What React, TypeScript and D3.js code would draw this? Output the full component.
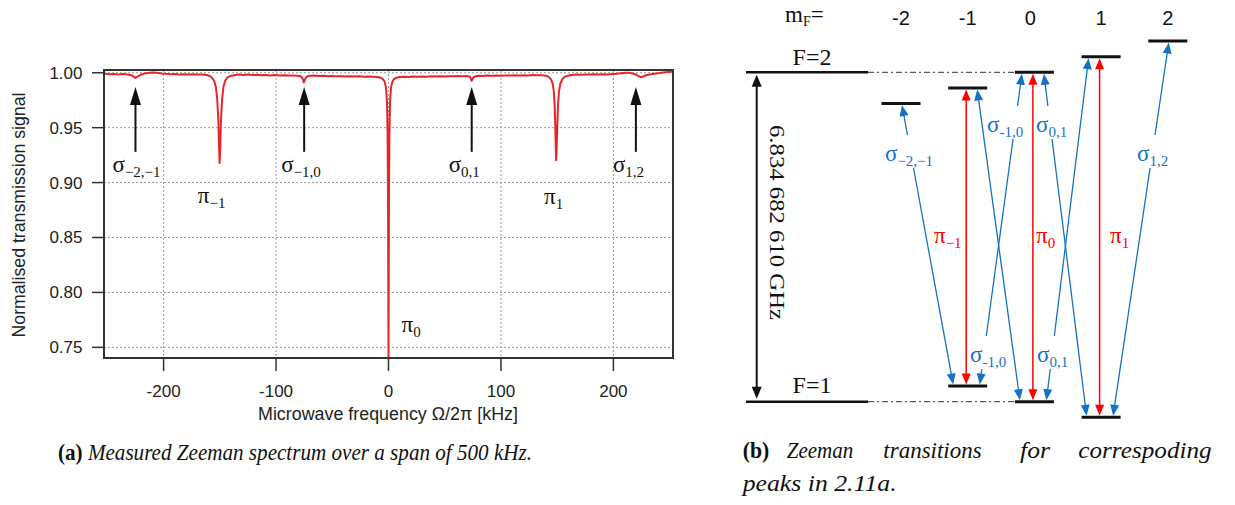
import React from 'react';
import * as d3 from 'd3';

// ================= Panel (a) data =================
const xTickValues = [-200, -100, 0, 100, 200];
const yTickValues = [0.75, 0.8, 0.85, 0.9, 0.95, 1.0];
const yTickLabels = ['0.75', '0.80', '0.85', '0.90', '0.95', '1.00'];
const xAxisTitle = 'Microwave frequency Ω/2π  [kHz]';
const yAxisTitle = 'Normalised transmission signal';

// [frequency kHz, normalised transmission]
const spectrum: [number, number][] = [
  [-252, 0.999], [-248, 0.9986], [-244, 0.9989], [-240, 0.9985], [-236, 0.9988], [-232, 0.9984],
  [-229, 0.9978], [-227, 0.9968], [-225, 0.9953], [-223, 0.9966], [-221, 0.9979], [-218, 0.999],
  [-214, 0.9998], [-210, 1.0003], [-206, 1.0], [-202, 0.9994], [-198, 0.999], [-194, 0.9987],
  [-190, 0.9989], [-186, 0.9985], [-182, 0.9987], [-178, 0.9984], [-174, 0.9986], [-170, 0.9983],
  [-166, 0.9984], [-162, 0.9979], [-159, 0.997], [-157, 0.9955], [-155, 0.9925], [-153.5, 0.987],
  [-152.3, 0.976], [-151.3, 0.956], [-150.6, 0.93], [-150.2, 0.9178], [-149.7, 0.93], [-149.0, 0.956],
  [-148.0, 0.976], [-146.8, 0.987], [-145.3, 0.9925], [-143.5, 0.9955], [-141, 0.997], [-137, 0.9978],
  [-133, 0.9983], [-129, 0.998], [-125, 0.9983], [-121, 0.9979], [-117, 0.9982], [-113, 0.9978],
  [-109, 0.998], [-105, 0.9976], [-101, 0.9979], [-97, 0.9975], [-93, 0.9977], [-89, 0.9974],
  [-85, 0.9976], [-81, 0.9973], [-78, 0.9968], [-76.5, 0.995], [-75.3, 0.9912], [-74, 0.9945],
  [-72.5, 0.9966], [-70, 0.9972], [-66, 0.9975], [-62, 0.9971], [-58, 0.9973], [-54, 0.9969],
  [-50, 0.9971], [-46, 0.9967], [-42, 0.9969], [-38, 0.9966], [-34, 0.9968], [-30, 0.9965],
  [-26, 0.9967], [-22, 0.9964], [-18, 0.9966], [-14, 0.9963], [-10, 0.9962], [-7, 0.9955],
  [-5, 0.9942], [-3.5, 0.992], [-2.3, 0.987], [-1.4, 0.974], [-0.8, 0.945], [-0.4, 0.88],
  [-0.15, 0.79], [0, 0.7413], [0.15, 0.79], [0.4, 0.88], [0.8, 0.945], [1.4, 0.974],
  [2.3, 0.987], [3.5, 0.992], [5, 0.9942], [7, 0.9955], [10, 0.9961], [14, 0.9964],
  [18, 0.9962], [22, 0.9965], [26, 0.9963], [30, 0.9966], [34, 0.9964], [38, 0.9967],
  [42, 0.9965], [46, 0.9968], [50, 0.9966], [54, 0.9969], [58, 0.9967], [62, 0.997],
  [66, 0.9968], [70, 0.997], [72.5, 0.9962], [74, 0.9927], [75.5, 0.9958], [77.5, 0.9968],
  [80, 0.9972], [84, 0.997], [88, 0.9974], [92, 0.9972], [96, 0.9975], [100, 0.9973],
  [104, 0.9976], [108, 0.9974], [112, 0.9977], [116, 0.9975], [120, 0.9978], [124, 0.9976],
  [128, 0.9979], [132, 0.9977], [136, 0.9978], [140, 0.9973], [142.5, 0.9962], [144.5, 0.994],
  [146, 0.99], [147, 0.983], [147.8, 0.97], [148.4, 0.948], [148.8, 0.93], [149.1, 0.9204],
  [149.5, 0.93], [150, 0.948], [150.7, 0.97], [151.6, 0.983], [152.8, 0.99], [154.5, 0.994],
  [156.5, 0.9962], [159, 0.9972], [163, 0.9979], [167, 0.9983], [171, 0.9981], [175, 0.9985],
  [179, 0.9983], [183, 0.9986], [187, 0.9984], [191, 0.9987], [195, 0.9985], [199, 0.9988],
  [203, 0.9991], [207, 0.9996], [211, 1.0001], [214, 1.0], [217, 0.9993], [220, 0.9984],
  [222.5, 0.997], [224.5, 0.9958], [226.5, 0.9966], [229, 0.9978], [232, 0.9984], [236, 0.999],
  [240, 0.9996], [244, 1.0003], [248, 1.0006], [252, 1.001],
];

const sigmaPeakFreqs = [-225, -75, 74, 220];
const sigmaPeakSubs = ['−2,−1', '−1,0', '0,1', '1,2'];
const piPeakFreqs = [-150, 0, 149];
const piPeakSubs = ['−1', '0', '1'];
const arrowSpan = [0.928, 0.987]; // arrow from / to (signal units)

// ================= Panel (b) data =================
const mFValues = [-2, -1, 0, 1, 2];
const mFLabels = ['-2', '-1', '0', '1', '2'];
const upperMF = [-2, -1, 0, 1, 2]; // F=2
const lowerMF = [-1, 0, 1]; // F=1
const zeemanStep = 0.0474; // schematic shift per mF, in units of hyperfine splitting
const splittingLabel = '6.834 682 610 GHz';

type Transition = { kind: 'sigma' | 'pi'; lowerM: number; upperM: number; lowSlot: string; upSlot: string };
const transitions: Transition[] = [
  { kind: 'sigma', lowerM: -1, upperM: -2, lowSlot: 'L', upSlot: 'C' },
  { kind: 'sigma', lowerM: 0, upperM: -1, lowSlot: 'L', upSlot: 'R' },
  { kind: 'sigma', lowerM: -1, upperM: 0, lowSlot: 'R', upSlot: 'L' },
  { kind: 'sigma', lowerM: 1, upperM: 0, lowSlot: 'L', upSlot: 'R' },
  { kind: 'sigma', lowerM: 0, upperM: 1, lowSlot: 'R', upSlot: 'L' },
  { kind: 'sigma', lowerM: 1, upperM: 2, lowSlot: 'R', upSlot: 'C' },
  { kind: 'pi', lowerM: -1, upperM: -1, lowSlot: 'P', upSlot: 'P' },
  { kind: 'pi', lowerM: 0, upperM: 0, lowSlot: 'P', upSlot: 'P' },
  { kind: 'pi', lowerM: 1, upperM: 1, lowSlot: 'P', upSlot: 'P' },
];

// labels on the diagram (transition index, subscript, position)
const diagramSigmaLabels = [
  { tr: 0, sub: '−2,−1', x: 885, y: 161 },
  { tr: 2, sub: '-1,0', x: 987, y: 132 },
  { tr: 3, sub: '0,1', x: 1036, y: 132 },
  { tr: 2, sub: '-1,0', x: 970, y: 362 },
  { tr: 4, sub: '0,1', x: 1037, y: 362 },
  { tr: 5, sub: '1,2', x: 1137, y: 161 },
];
const diagramPiLabels = [
  { sub: '−1', x: 934, y: 243 },
  { sub: '0', x: 1036, y: 243 },
  { sub: '1', x: 1110, y: 243 },
];

// ================= styles =================
const SANS = '"Liberation Sans", Arial, sans-serif';
const SERIF = '"Liberation Serif", "Times New Roman", serif';
const PLOT_RED = '#e8252c';
const RED = '#ff0000';
const BLUE = '#1572c2';
const AXIS = '#333333';

type Pt = [number, number];

function headPoints(tip: Pt, dir: Pt, len: number, width: number): string {
  const [ux, uy] = dir;
  const bx = tip[0] - ux * len;
  const by = tip[1] - uy * len;
  const px = -uy * (width / 2);
  const py = ux * (width / 2);
  return `${tip[0]},${tip[1]} ${bx + px},${by + py} ${bx - px},${by - py}`;
}

function DoubleArrow({ p1, p2, color, width, headLen, headW, gaps = [] }: {
  p1: Pt; p2: Pt; color: string; width: number; headLen: number; headW: number; gaps?: [number, number][];
}) {
  const dx = p2[0] - p1[0];
  const dy = p2[1] - p1[1];
  const L = Math.hypot(dx, dy);
  const u: Pt = [dx / L, dy / L];
  const tStart = (headLen * 0.8) / L;
  const tEnd = 1 - (headLen * 0.8) / L;
  const tg = gaps
    .map(([ya, yb]) => {
      const ta = (ya - p1[1]) / dy;
      const tb = (yb - p1[1]) / dy;
      return [Math.min(ta, tb), Math.max(ta, tb)] as [number, number];
    })
    .sort((a, b) => a[0] - b[0]);
  const segs: [number, number][] = [];
  let cur = tStart;
  for (const [a, b] of tg) {
    if (a > cur) segs.push([cur, Math.min(a, tEnd)]);
    cur = Math.max(cur, b);
  }
  if (cur < tEnd) segs.push([cur, tEnd]);
  return (
    <g>
      {segs.map(([a, b], i) => (
        <line key={i} x1={p1[0] + dx * a} y1={p1[1] + dy * a} x2={p1[0] + dx * b} y2={p1[1] + dy * b}
          stroke={color} strokeWidth={width} />
      ))}
      <polygon points={headPoints(p2, u, headLen, headW)} fill={color} />
      <polygon points={headPoints(p1, [-u[0], -u[1]], headLen, headW)} fill={color} />
    </g>
  );
}

function PanelA() {
  const left = 104, right = 673, top = 70, bottom = 358;
  const x = d3.scaleLinear().domain([-253, 253]).range([left, right]);
  const y = d3.scaleLinear().domain([0.7403, 1.0025]).range([bottom, top]);
  const line = d3.line<[number, number]>().x((d) => x(d[0])).y((d) => y(d[1]));
  return (
    <g>
      {xTickValues.map((v) => (
        <line key={'gx' + v} x1={x(v)} x2={x(v)} y1={top} y2={bottom} stroke="#9a9a9a" strokeWidth={1} strokeDasharray="2,2" />
      ))}
      {yTickValues.map((v) => (
        <line key={'gy' + v} x1={left} x2={right} y1={y(v)} y2={y(v)} stroke="#9a9a9a" strokeWidth={1} strokeDasharray="2,2" />
      ))}
      <path d={line(spectrum) || ''} fill="none" stroke={PLOT_RED} strokeWidth={2} strokeLinejoin="round" />
      <rect x={left} y={top} width={right - left} height={bottom - top} fill="none" stroke={AXIS} strokeWidth={2} />
      {xTickValues.map((v) => (
        <g key={'tx' + v}>
          <line x1={x(v)} x2={x(v)} y1={bottom} y2={bottom + 13} stroke={AXIS} strokeWidth={1.5} />
          <text x={x(v)} y={396.5} textAnchor="middle" fontFamily={SANS} fontSize={17} fill="#222">{v}</text>
        </g>
      ))}
      {yTickValues.map((v, i) => (
        <g key={'ty' + v}>
          <line x1={left - 12} x2={left} y1={y(v)} y2={y(v)} stroke={AXIS} strokeWidth={1.5} />
          <text x={82.5} y={y(v)} dy="0.35em" textAnchor="end" fontFamily={SANS} fontSize={17} fill="#222">{yTickLabels[i]}</text>
        </g>
      ))}
      <text x={388} y={420} textAnchor="middle" fontFamily={SANS} fontSize={17.5} fill="#222" textLength={260} lengthAdjust="spacingAndGlyphs">{xAxisTitle}</text>
      <text transform={`translate(24.5,215) rotate(-90)`} textAnchor="middle" fontFamily={SANS} fontSize={17.5} fill="#222" textLength={245} lengthAdjust="spacingAndGlyphs">{yAxisTitle}</text>
      {sigmaPeakFreqs.map((f, i) => {
        const ax = x(f);
        const tipY = y(arrowSpan[1]);
        const baseY = y(arrowSpan[0]);
        return (
          <g key={'sa' + i}>
            <line x1={ax} x2={ax} y1={baseY} y2={tipY + 14} stroke="#111" strokeWidth={2} />
            <polygon points={headPoints([ax, tipY], [0, -1], 18, 11)} fill="#111" />
            <text x={ax - 23} y={172} fontFamily={SERIF} fontSize={23} fill="#111">
              σ<tspan fontSize={15} dy={5}>{sigmaPeakSubs[i]}</tspan>
            </text>
          </g>
        );
      })}
      {piPeakFreqs.map((f, i) => {
        const off = [[-22, 203], [13, 332], [-12, 204]][i];
        return (
          <text key={'pl' + i} x={x(f) + off[0]} y={off[1]} fontFamily={SERIF} fontSize={23} fill="#111">
            π<tspan fontSize={15} dy={5}>{piPeakSubs[i]}</tspan>
          </text>
        );
      })}
    </g>
  );
}

function PanelB() {
  const xM = d3.scaleLinear().domain([-2, 2]).range([901, 1167.8]);
  const yE = d3.scaleLinear().domain([0, 1]).range([401.7, 72.3]);
  const halfBar = 19.5;
  const upperE = (m: number) => 1 + zeemanStep * m;
  const lowerE = (m: number) => -zeemanStep * m;
  const upSlotOff: Record<string, number> = { L: -12.5, C: 1, R: 9.5, P: -1.5 };
  const lowSlotOff: Record<string, number> = { L: -14.5, R: 12, P: -1.5 };
  const zeroLeft = xM(0) - halfBar;

  const trGeom = transitions.map((t) => {
    const p1: Pt = [xM(t.lowerM) + lowSlotOff[t.lowSlot], yE(lowerE(t.lowerM)) - 1.5];
    const p2: Pt = [xM(t.upperM) + upSlotOff[t.upSlot], yE(upperE(t.upperM)) + 1.5];
    return { p1, p2 };
  });

  return (
    <g>
      <text x={785} y={22} fontFamily={SERIF} fontSize={23} fill="#111">
        m<tspan fontSize={14} dy={4}>F</tspan><tspan dy={-4}>=</tspan>
      </text>
      {mFValues.map((m, i) => (
        <text key={'mh' + m} x={xM(m) - (m === 0 ? 4 : 0)} y={25} textAnchor="middle" fontFamily={SANS} fontSize={20} fill="#111">
          {mFLabels[i]}
        </text>
      ))}
      <line x1={746} x2={868} y1={yE(1)} y2={yE(1)} stroke="#111" strokeWidth={2.5} />
      <line x1={868} x2={zeroLeft} y1={yE(1)} y2={yE(1)} stroke="#333" strokeWidth={1} strokeDasharray="6,3,2,3" />
      <line x1={746} x2={868} y1={yE(0)} y2={yE(0)} stroke="#111" strokeWidth={2.5} />
      <line x1={868} x2={zeroLeft} y1={yE(0)} y2={yE(0)} stroke="#333" strokeWidth={1} strokeDasharray="6,3,2,3" />
      <text x={812} y={65} textAnchor="middle" fontFamily={SERIF} fontSize={24} fill="#111">F=2</text>
      <text x={812} y={393} textAnchor="middle" fontFamily={SERIF} fontSize={24} fill="#111">F=1</text>
      <DoubleArrow p1={[756.7, yE(0) - 3]} p2={[756.7, yE(1) + 2.5]} color="#111" width={2} headLen={12} headW={10} />
      <text transform={`translate(770,222.5) rotate(90)`} textAnchor="middle" fontFamily={SERIF} fontSize={22} fill="#111"
        textLength={195} lengthAdjust="spacingAndGlyphs">
        {splittingLabel}
      </text>
      {upperMF.map((m) => (
        <line key={'u' + m} x1={xM(m) - halfBar} x2={xM(m) + halfBar} y1={yE(upperE(m))} y2={yE(upperE(m))} stroke="#111" strokeWidth={3} />
      ))}
      {lowerMF.map((m) => (
        <line key={'l' + m} x1={xM(m) - halfBar} x2={xM(m) + halfBar} y1={yE(lowerE(m))} y2={yE(lowerE(m))} stroke="#111" strokeWidth={3} />
      ))}
      {transitions.map((t, i) => {
        const gaps = diagramSigmaLabels
          .filter((l) => l.tr === i)
          .map((l) => [l.y - 26, l.y + 7] as [number, number]);
        const isPi = t.kind === 'pi';
        return (
          <DoubleArrow key={'tr' + i} p1={trGeom[i].p1} p2={trGeom[i].p2}
            color={isPi ? RED : BLUE} width={isPi ? 1.5 : 1.3} headLen={11} headW={9} gaps={gaps} />
        );
      })}
      {diagramSigmaLabels.map((l, i) => (
        <text key={'sl' + i} x={l.x} y={l.y} fontFamily={SERIF} fontSize={23} fill={BLUE}>
          σ<tspan fontSize={15} dy={5}>{l.sub}</tspan>
        </text>
      ))}
      {diagramPiLabels.map((l, i) => (
        <text key={'pl' + i} x={l.x} y={l.y} fontFamily={SERIF} fontSize={23} fill={RED}>
          π<tspan fontSize={15} dy={5}>{l.sub}</tspan>
        </text>
      ))}
    </g>
  );
}

function Captions() {
  const words1 = [
    { t: 'Zeeman', x: 786.7, w: 66.6 },
    { t: 'transitions', x: 883.3, w: 98.4 },
    { t: 'for', x: 1020, w: 30 },
    { t: 'correspoding', x: 1078.3, w: 133.4 },
  ];
  return (
    <g fontFamily={SERIF} fontSize={23} fill="#111">
      <text x={58} y={460} textLength={474} lengthAdjust="spacingAndGlyphs">
        <tspan fontWeight="bold">(a)</tspan>
        <tspan fontStyle="italic"> Measured Zeeman spectrum over a span of 500 kHz.</tspan>
      </text>
      <text x={742.7} y={458} fontWeight="bold" textLength={26.6} lengthAdjust="spacingAndGlyphs">(b)</text>
      {words1.map((w) => (
        <text key={w.t} x={w.x} y={458} fontStyle="italic" textLength={w.w} lengthAdjust="spacingAndGlyphs">{w.t}</text>
      ))}
      <text x={742.7} y={491} fontStyle="italic" textLength={154} lengthAdjust="spacingAndGlyphs">peaks in 2.11a.</text>
    </g>
  );
}

export default function App() {
  return (
    <svg width={1235} height={505} viewBox="0 0 1235 505"
      style={{ position: 'absolute', left: 0, top: 0, background: '#fff' }}>
      <rect x={0} y={0} width={1235} height={505} fill="#fff" />
      <PanelA />
      <PanelB />
      <Captions />
    </svg>
  );
}
